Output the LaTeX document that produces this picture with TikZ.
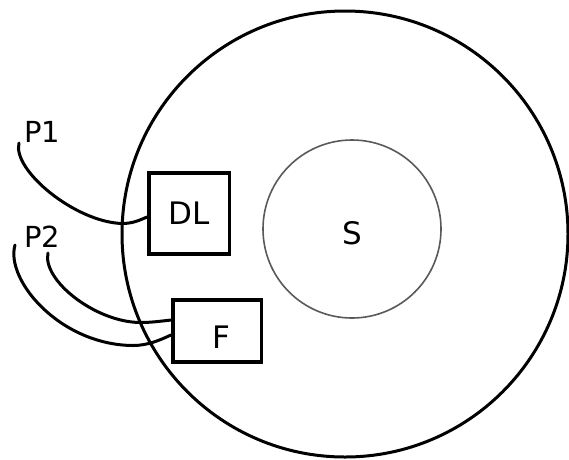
\documentclass[tikz,border=0pt]{standalone}
\usepackage{fontspec}
\setmainfont{DejaVu Sans}
\begin{document}
\begin{tikzpicture}[x=1pt,y=-1pt,
  box/.style={draw, line width=3.5pt, inner sep=0pt, rectangle},
  wire/.style={line width=3pt, line cap=round},
  biglbl/.style={font=\fontsize{31}{31}\selectfont, inner sep=0pt},
  plbl/.style={font=\fontsize{29}{29}\selectfont, inner sep=0pt}]
\useasboundingbox (0,0) rectangle (569,459);
% outer circle
\node[circle, draw, line width=3pt, minimum size=446pt, inner sep=0pt] (outer) at (345,234) {};
% inner circle S
\node[circle, draw=black!65, line width=1.6pt, minimum size=178pt, inner sep=0pt] (Scirc) at (352,229) {};
\node[biglbl] (S) at (352,233) {S};
% DL box
\node[box, minimum width=80.5pt, minimum height=81pt, biglbl] (DL) at (189,213.5) {DL};
% F box
\node[box, minimum width=88.5pt, minimum height=62pt] (F) at (217,331) {};
\node[biglbl] (Ftext) at (221,337) {F};
% labels
\node[plbl] (P1) at (42,132) {P1};
\node[plbl] (P2) at (42,237) {P2};
% wire ends
\coordinate (p1s) at (19,143);
\coordinate (p2a) at (15,245);
\coordinate (p2b) at (48,253);
% wires
\draw[wire] (p1s) .. controls (12,170) and (75,222) .. (122,223.5)
  .. controls (133,223.5) and (140,220) .. ([yshift=-3.5pt]DL.west);
\draw[wire] (p2a) .. controls (5,280) and (60,345) .. (133,345.5)
  .. controls (148,345.5) and (160,340) .. ([yshift=-4pt]F.west);
\draw[wire] (p2b) .. controls (42,280) and (95,322) .. (140,322.5)
  .. controls (152,322.5) and (162,321) .. ([yshift=11pt]F.west);
\end{tikzpicture}
\end{document}
